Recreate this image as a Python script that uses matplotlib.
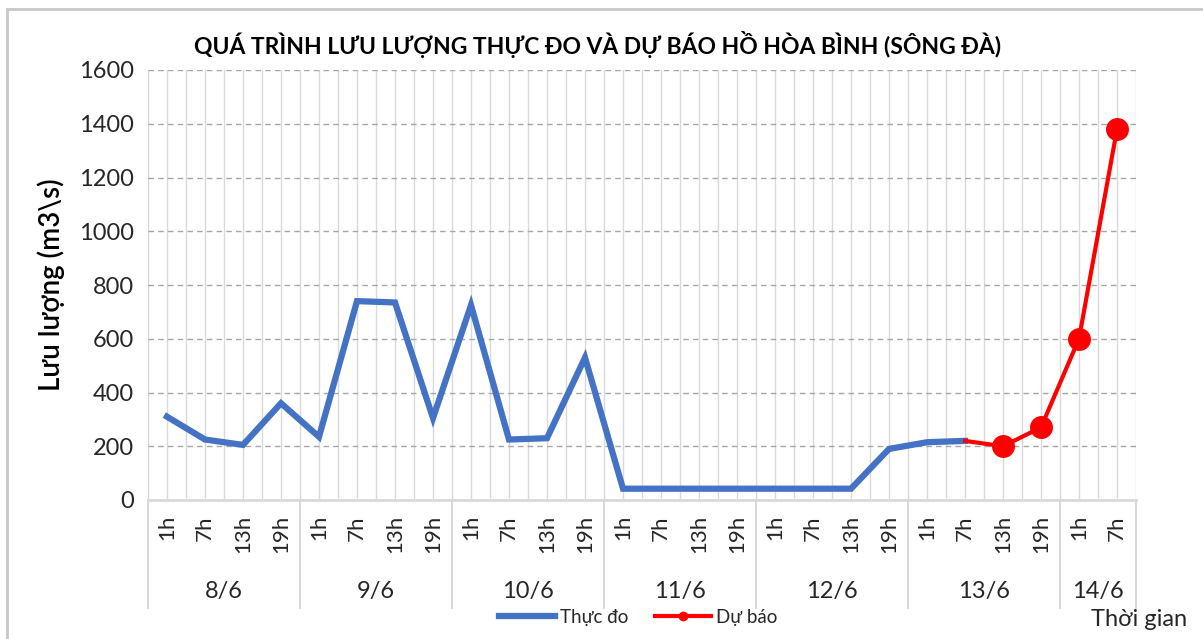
import numpy as np
import matplotlib
matplotlib.use("Agg")
import matplotlib.pyplot as plt
from matplotlib.patches import Rectangle
from matplotlib.lines import Line2D

plt.rcParams['font.family'] = ['Lato', 'Noto Sans', 'DejaVu Sans']

# data
days = ["8/6", "9/6", "10/6", "11/6", "12/6", "13/6", "14/6"]
hours_per_day = [4, 4, 4, 4, 4, 4, 2]
hour_labels = ["1h", "7h", "13h", "19h"] * 6 + ["1h", "7h"]

thuc_do = [310, 225, 205, 360,
           235, 740, 735, 305,
           725, 225, 230, 530,
           42, 42, 42, 42,
           42, 42, 42, 190,
           215, 220]
# forecast starts at 13/6 7h
du_bao_start = 21
du_bao = [220, 200, 270, 600, 1380]

blue = "#4472C4"
red = "#FF0000"


def main():
    fig = plt.figure(figsize=(12.03, 6.39), dpi=100)
    fig.patches.append(Rectangle((7 / 1203, -0.1), 1.2, 1 - 9 / 639 + 0.1,
                                 transform=fig.transFigure, fill=False,
                                 edgecolor="#c8c8c8", linewidth=2))
    ax = fig.add_axes([148 / 1203, 1 - 500 / 639, 988 / 1203, 430 / 639])

    n = len(hour_labels)
    x = np.arange(n)
    ax.set_xlim(-0.5, n - 0.5)
    ax.set_ylim(0, 1600)

    # grid: solid light verticals at centres and boundaries, dashed horizontals
    for gx in np.arange(-0.5, n, 0.5):
        ax.axvline(gx, color="#d9d9d9", linewidth=1, zorder=0)
    for gy in range(200, 1601, 200):
        ax.axhline(gy, color="#a6a6a6", linewidth=1, linestyle=(0, (4, 3)), zorder=0)

    ax.plot(x[:len(thuc_do)], thuc_do, color=blue, linewidth=4.5,
            solid_joinstyle="miter", zorder=3)
    xf = x[du_bao_start:du_bao_start + len(du_bao)]
    ax.plot(xf, du_bao, color=red, linewidth=3, zorder=4)
    ax.plot(xf[1:], du_bao[1:], linestyle="none", marker="o", markersize=15.5,
            color=red, zorder=5)

    for s in ["top", "right", "left"]:
        ax.spines[s].set_visible(False)
    ax.spines["bottom"].set_color("#d9d9d9")
    ax.spines["bottom"].set_linewidth(2)

    ax.set_yticks(range(0, 1601, 200))
    ax.tick_params(axis="y", length=0, labelsize=17, labelcolor="#262626", pad=10)
    ax.set_xticks([])

    # two level category axis
    tr = ax.get_xaxis_transform()
    for i, lab in enumerate(hour_labels):
        ax.text(i, -0.035, lab, transform=tr, rotation=90, ha="center", va="top",
                fontsize=16, color="#262626")
    start = 0
    bounds = [-0.5]
    for d, k in zip(days, hours_per_day):
        ax.text(start + (k - 1) / 2, -0.212, d, transform=tr, ha="center",
                va="center", fontsize=17, color="#262626")
        start += k
        bounds.append(start - 0.5)
    for b in bounds:
        ax.add_line(Line2D([b, b], [0, -0.251], transform=tr, color="#d9d9d9",
                           linewidth=1.5, clip_on=False))

    ax.set_ylabel("Lưu lượng (m3\\s)", fontsize=20, fontweight="semibold",
                  labelpad=10)
    fig.text(598 / 1203, 1 - 45 / 639,
             "QUÁ TRÌNH LƯU LƯỢNG THỰC ĐO VÀ DỰ BÁO HỒ HÒA BÌNH (SÔNG ĐÀ)",
             ha="center", va="center", fontsize=16.5, fontweight="bold")
    fig.text(1091 / 1203, 1 - 619 / 639, "Thời gian", ha="left", va="center",
             fontsize=17, color="#262626")

    handles = [Line2D([], [], color=blue, linewidth=4.5),
               Line2D([], [], color=red, linewidth=3, marker="o", markersize=6)]
    fig.legend(handles, ["Thực đo", "Dự báo"], loc="center",
               bbox_to_anchor=(638 / 1203, 1 - 617 / 639), ncol=2, frameon=False,
               fontsize=13.5, handlelength=3.0, columnspacing=1.4,
               handletextpad=0.25, labelcolor="#262626")

    fig.savefig("out.png", dpi=100)


if __name__ == "__main__":
    main()
